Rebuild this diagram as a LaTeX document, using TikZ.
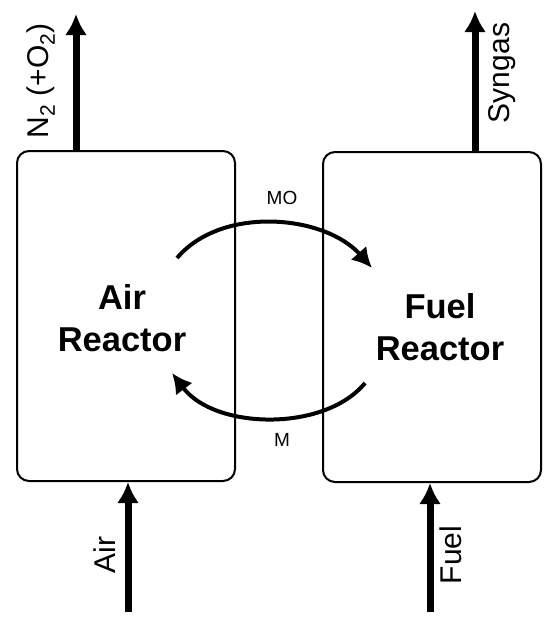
\documentclass[tikz,border=0pt]{standalone}
\usepackage{fontspec}
\setmainfont{Liberation Sans}
\usetikzlibrary{arrows.meta,positioning}
\tikzset{>={Latex[length=21pt,width=22pt]},shorten >=0pt}
\tikzset{reactor/.style={draw,rounded corners=12pt,line width=2pt,minimum width=218pt,minimum height=330pt,inner sep=0pt}}
\tikzset{flow/.style={->,line width=7pt}}
\tikzset{cycle/.style={-{Latex[length=20pt,width=21pt]},line width=4pt}}
\tikzset{streamtext/.style={rotate=90,font=\fontsize{30}{34}\selectfont}}
\tikzset{reactortext/.style={align=center,font=\fontsize{34.5}{42}\selectfont\bfseries}}
\tikzset{solidtext/.style={font=\fontsize{19}{22}\selectfont}}

\begin{document}
\begin{tikzpicture}[x=1pt,y=-1pt]
                \useasboundingbox (0,0) rectangle (550,621);
                \node[reactor] (air)  at (126,316) {};
                \node[reactor] (fuel) at (432,317) {};
                \node[reactortext] (airtxt)  at (122,318) {Air\\Reactor};
                \node[reactortext] (fueltxt) at (440,327) {Fuel\\Reactor};
                % streams in and out
                \coordinate (n2end)   at (76,14);
                \coordinate (synend)  at (475,11);
                \coordinate (airin)   at (128,612);
                \coordinate (fuelin)  at (430,612);
                \draw[flow] (n2end |- air.north) -- (n2end);
                \draw[flow] (synend |- fuel.north) -- (synend);
                \draw[flow] (airin) -- (airin |- air.south);
                \draw[flow] (fuelin) -- (fuelin |- fuel.south);
                \node[streamtext] (n2lbl)   at (41,81)  {N\textsubscript{2} (+O\textsubscript{2})};
                \node[streamtext] (synlbl)  at (502,73) {Syngas};
                \node[streamtext] (airlbl)  at (105,555) {Air};
                \node[streamtext] (fuellbl) at (451,555) {Fuel};
                % solids loop
                \coordinate (mo1) at (177,258);
                \coordinate (mo2) at (372,268);
                \coordinate (m1)  at (365,383);
                \coordinate (m2)  at (172,373);
                \draw[cycle] (mo1) .. controls (222,205) and (325,215) .. (mo2);
                \draw[cycle] (m1) .. controls (325,432) and (215,430) .. (m2);
                \node[solidtext] (molbl) at (282,198) {MO};
                \node[solidtext] (mlbl)  at (282,440) {M};
            \end{tikzpicture}
\end{document}
